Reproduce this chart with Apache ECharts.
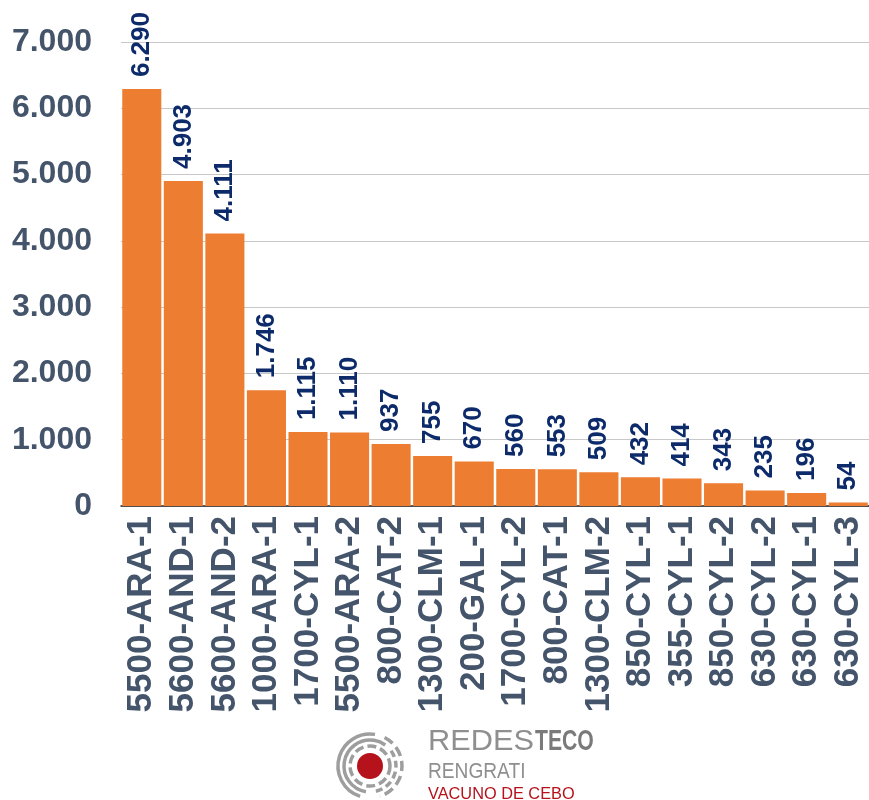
<!DOCTYPE html>
<html>
<head>
<meta charset="utf-8">
<script src="https://cdn.jsdelivr.net/npm/echarts@6/dist/echarts.min.js"></script>
<style>
  html, body { margin: 0; padding: 0; background: #fff; }
  #chart { width: 869px; height: 800px; }
</style>
</head>
<body>
<div id="chart"></div>
<script>
const categories = ['5500-ARA-1', '5600-AND-1', '5600-AND-2', '1000-ARA-1', '1700-CYL-1', '5500-ARA-2',
  '800-CAT-2', '1300-CLM-1', '200-GAL-1', '1700-CYL-2', '800-CAT-1', '1300-CLM-2',
  '850-CYL-1', '355-CYL-1', '850-CYL-2', '630-CYL-2', '630-CYL-1', '630-CYL-3']
const values = [6290, 4903, 4111, 1746, 1115, 1110, 937, 755, 670, 560, 553, 509, 432, 414, 343, 235, 196, 54]
const yTicks = [0, 1000, 2000, 3000, 4000, 5000, 6000, 7000]

const font = 'Liberation Sans, Arial, sans-serif'

// 1234 -> 1.234
function fmt(v) {
  return String(v).replace(/\B(?=(\d{3})+(?!\d))/g, '.')
}

const chart = echarts.init(document.getElementById('chart'))

const ring = '#9E9E9E'
const logo = [
  { type: 'circle', shape: { cx: 370, cy: 766, r: 13 }, style: { fill: '#B5121B' } },
  // rings round the dot: solid on the left, dashed on the right
  { type: 'arc', shape: { cx: 370, cy: 766, r: 20, startAngle: 0, endAngle: Math.PI * 2 },
    style: { stroke: ring, lineWidth: 3.5, fill: null, lineDash: [9, 4] } },
  { type: 'arc', shape: { cx: 370, cy: 766, r: 26, startAngle: Math.PI * 0.55, endAngle: Math.PI * 1.7 },
    style: { stroke: ring, lineWidth: 3.5, fill: null } },
  { type: 'arc', shape: { cx: 370, cy: 766, r: 26, startAngle: Math.PI * 1.8, endAngle: Math.PI * 2.45 },
    style: { stroke: ring, lineWidth: 3.5, fill: null, lineDash: [7, 4] } },
  { type: 'arc', shape: { cx: 370, cy: 766, r: 32, startAngle: Math.PI * 0.6, endAngle: Math.PI * 1.55 },
    style: { stroke: ring, lineWidth: 3.5, fill: null } },
  { type: 'arc', shape: { cx: 370, cy: 766, r: 32, startAngle: Math.PI * 1.65, endAngle: Math.PI * 2.4 },
    style: { stroke: ring, lineWidth: 3.5, fill: null, lineDash: [10, 5] } },
  { type: 'text', x: 428, y: 727, scaleX: 1.06,
    style: { text: 'REDES', font: '29px ' + font, fill: '#8F8F8F' } },
  { type: 'text', x: 535, y: 727, scaleX: 0.73,
    style: { text: 'TECO', font: 'bold 29px ' + font, fill: '#7A7A7A' } },
  { type: 'text', x: 428, y: 761, scaleX: 0.87,
    style: { text: 'RENGRATI', font: '22px ' + font, fill: '#8F8F8F' } },
  { type: 'text', x: 428, y: 786, scaleX: 0.96,
    style: { text: 'VACUNO DE CEBO', font: '17px ' + font, fill: '#B5121B' } }
]

chart.setOption({
  animation: false,
  grid: { left: 121, right: -6, top: 42, bottom: 294 },
  xAxis: {
    type: 'category',
    data: categories,
    axisLine: { lineStyle: { color: '#262626', width: 1.5 } },
    axisTick: { length: 10, lineStyle: { color: '#262626' } },
    axisLabel: {
      rotate: 90, margin: 10, interval: 0,
      fontFamily: font, fontSize: 35, fontWeight: 'bold', color: '#44546A'
    }
  },
  yAxis: {
    type: 'value',
    min: yTicks[0],
    max: yTicks[yTicks.length - 1],
    interval: 1000,
    axisLine: { show: false },
    axisTick: { show: false },
    splitLine: { lineStyle: { color: '#C8C8C8', width: 1 } },
    axisLabel: {
      margin: 29, fontFamily: font, fontSize: 32, fontWeight: 'bold', color: '#44546A',
      formatter: fmt
    }
  },
  series: [{
    type: 'bar',
    data: values,
    barCategoryGap: '6%',
    itemStyle: { color: '#ED7D31' },
    label: {
      show: true, position: 'top', rotate: 90, align: 'left', verticalAlign: 'middle',
      distance: 12, fontFamily: font, fontSize: 26, fontWeight: 'bold', color: '#0D2B6B',
      formatter: p => fmt(p.value)
    }
  }],
  graphic: logo
})
</script>
</body>
</html>
